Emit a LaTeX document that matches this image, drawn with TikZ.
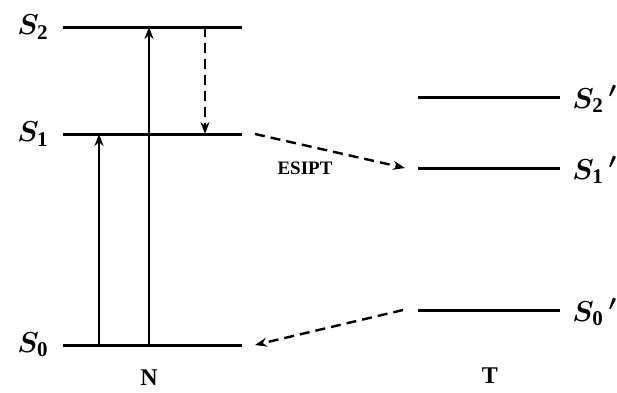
\documentclass[tikz,border=0pt]{standalone}
\usepackage{fontspec}
\usepackage{bm}
\setmainfont{Liberation Serif}
\usetikzlibrary{arrows.meta}
\begin{document}
\begin{tikzpicture}[x=0.5pt,y=-0.5pt,
  level/.style={line width=1.5pt},
  up/.style={line width=1.2pt,-{Stealth[length=6pt,width=4.5pt]}},
  dasharrow/.style={line width=1.2pt,dash pattern=on 5pt off 3pt,-{Stealth[length=6pt,width=4.5pt]}},
  slabel/.style={font=\fontsize{15}{17}\selectfont, inner sep=0pt},
  axlabel/.style={font=\fontsize{12}{14}\selectfont\bfseries, inner sep=0pt},
  small/.style={font=\fontsize{9.5}{10}\selectfont\bfseries, inner sep=0pt}]
\useasboundingbox (0,0) rectangle (617,392);
% N levels
\coordinate (s2a) at (63,27);  \coordinate (s2b) at (242,27);
\coordinate (s1a) at (63,134); \coordinate (s1b) at (242,134);
\coordinate (s0a) at (63,345); \coordinate (s0b) at (242,345);
\draw[level] (s2a) -- (s2b);
\draw[level] (s1a) -- (s1b);
\draw[level] (s0a) -- (s0b);
% T levels
\coordinate (t2a) at (418,97);  \coordinate (t2b) at (560,97);
\coordinate (t1a) at (418,168); \coordinate (t1b) at (560,168);
\coordinate (t0a) at (418,310); \coordinate (t0b) at (560,310);
\draw[level] (t2a) -- (t2b);
\draw[level] (t1a) -- (t1b);
\draw[level] (t0a) -- (t0b);
% labels
\node[slabel] (l2) at (33,27) {$\bm{S}_{\mathbf{2}}$};
\node[slabel] (l1) at (33,134) {$\bm{S}_{\mathbf{1}}$};
\node[slabel] (l0) at (33,345) {$\bm{S}_{\mathbf{0}}$};
\node[slabel,anchor=west] (m2) at (572,99) {$\bm{S}_{\mathbf{2}}\,\bm{'}$};
\node[slabel,anchor=west] (m1) at (572,170) {$\bm{S}_{\mathbf{1}}\,\bm{'}$};
\node[slabel,anchor=west] (m0) at (572,312) {$\bm{S}_{\mathbf{0}}\,\bm{'}$};
\node[axlabel] (N) at (149,378) {N};
\node[axlabel] (T) at (490,376) {T};
\node[small] (esipt) at (305,168) {ESIPT};
% transitions
\coordinate (a1s) at (99,345); \coordinate (a1e) at (99,134);
\coordinate (a2s) at (149,345); \coordinate (a2e) at (149,27);
\coordinate (a3s) at (205,27); \coordinate (a3e) at (205,134);
\draw[up] (a1s) -- (a1e);
\draw[up] (a2s) -- (a2e);
\draw[dasharrow] (a3s) -- (a3e);
\coordinate (e1s) at (255,134); \coordinate (e1e) at (405,168);
\draw[dasharrow] (e1s) -- (e1e);
\coordinate (e2s) at (403,310); \coordinate (e2e) at (255,345);
\draw[dasharrow] (e2s) -- (e2e);
\end{tikzpicture}
\end{document}
